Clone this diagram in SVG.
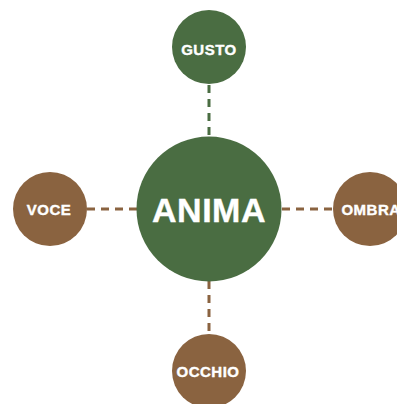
<svg xmlns="http://www.w3.org/2000/svg" width="397" height="404" viewBox="0 0 397 404">
<style>
.g{fill:#4a6d42}
.b{fill:#8a6340}
.t{font-family:"Liberation Sans",Arial,sans-serif;font-weight:bold;fill:#ffffff;stroke:#ffffff;stroke-width:0.4;text-anchor:middle}
.s{font-size:15px;letter-spacing:0.5px}
.c{fill:none;stroke-width:3;stroke-dasharray:8 6}
</style>
<rect width="397" height="404" fill="#ffffff"/>
<g id="connectors">
<line class="c" x1="209" y1="85" x2="209" y2="137" stroke="#4a6d42"/>
<line class="c" x1="87" y1="209" x2="137" y2="209" stroke="#8a6340"/>
<line class="c" x1="282" y1="209" x2="333" y2="209" stroke="#8a6340"/>
<line class="c" x1="209" y1="281" x2="209" y2="334" stroke="#8a6340"/>
</g>
<g id="anima">
<circle class="g" cx="209" cy="209" r="72.5"/>
<text class="t" x="209" y="222" font-size="34" letter-spacing="0.5" stroke-width="0.6">ANIMA</text>
</g>
<g id="gusto">
<circle class="g" cx="209" cy="47" r="37"/>
<text class="t s" x="209" y="55">GUSTO</text>
</g>
<g id="voce">
<circle class="b" cx="50" cy="209" r="37"/>
<text class="t s" x="49" y="215">VOCE</text>
</g>
<g id="ombra">
<circle class="b" cx="370" cy="209" r="37"/>
<text class="t s" x="371" y="215">OMBRA</text>
</g>
<g id="occhio">
<circle class="b" cx="209" cy="371" r="37"/>
<text class="t s" x="208" y="377">OCCHIO</text>
</g>
</svg>
